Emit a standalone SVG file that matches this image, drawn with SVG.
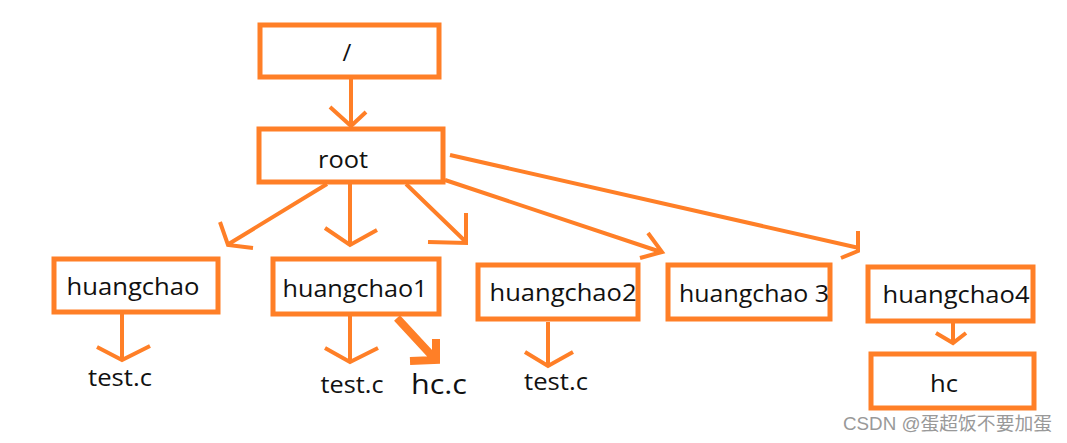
<svg xmlns="http://www.w3.org/2000/svg" width="1067" height="443" viewBox="0 0 1067 443">
<style>
.box{fill:#fff;stroke:#FF7F27;stroke-width:5}
.ln{fill:none;stroke:#FF7F27;stroke-width:4;stroke-linecap:butt;stroke-linejoin:miter}
.thick{fill:none;stroke:#FF7F27;stroke-width:8;stroke-linejoin:miter}
.t{font-family:"Open Sans","Noto Sans",sans-serif;font-size:24px;fill:#111;text-anchor:middle}
.wm{font-family:"Liberation Sans","Noto Sans CJK SC",sans-serif;font-size:18px;fill:#999}
</style>
<rect width="1067" height="443" fill="#fff"/>
<g id="n-slash"><rect class="box" x="260" y="25" width="179" height="52"/><text class="t" x="347" y="61">/</text></g>
<g id="n-root"><rect class="box" x="259" y="129" width="184" height="53"/><text class="t" x="343" y="168" textLength="50" lengthAdjust="spacingAndGlyphs">root</text></g>
<g id="n-huangchao"><rect class="box" x="54" y="259" width="164" height="53"/><text class="t" x="133" y="295" textLength="133" lengthAdjust="spacingAndGlyphs">huangchao</text></g>
<g id="n-huangchao1"><rect class="box" x="273" y="259" width="166" height="55"/><text class="t" x="355" y="297" textLength="145" lengthAdjust="spacingAndGlyphs">huangchao1</text></g>
<g id="n-huangchao2"><rect class="box" x="478" y="265" width="160" height="54"/><text class="t" x="563" y="301" textLength="147" lengthAdjust="spacingAndGlyphs">huangchao2</text></g>
<g id="n-huangchao3"><rect class="box" x="668" y="265" width="162" height="54"/><text class="t" x="754" y="302" textLength="150" lengthAdjust="spacingAndGlyphs">huangchao 3</text></g>
<g id="n-huangchao4"><rect class="box" x="868" y="267" width="165" height="54"/><text class="t" x="956" y="303" textLength="147" lengthAdjust="spacingAndGlyphs">huangchao4</text></g>
<g id="n-hc"><rect class="box" x="871" y="354" width="163" height="54"/><text class="t" x="944" y="392" textLength="28" lengthAdjust="spacingAndGlyphs">hc</text></g>
<g id="n-test1"><text class="t" x="120" y="386" textLength="64" lengthAdjust="spacingAndGlyphs">test.c</text></g>
<g id="n-test2"><text class="t" x="352" y="393" textLength="63" lengthAdjust="spacingAndGlyphs">test.c</text></g>
<g id="n-hcc"><text class="t" x="439" y="394" style="font-size:28px" textLength="56" lengthAdjust="spacingAndGlyphs">hc.c</text></g>
<g id="n-test3"><text class="t" x="556" y="390" textLength="64" lengthAdjust="spacingAndGlyphs">test.c</text></g>
<g id="connectors">
<path class="ln" d="M351 79V125M330 107L351 126L366 112"/>
<path class="ln" d="M327 184L227 245M220 222L228 245L253 248"/>
<path class="ln" d="M350 184V245M325 228L350 245L377 230"/>
<path class="ln" d="M406 184L466 242M466 213V243L428 242"/>
<path class="ln" d="M445 180L661 252M648 233L662 252L640 258"/>
<path class="ln" d="M450 155L859 248M858 231V251L841 258"/>
<path class="ln" d="M122 314V360M97 347L122 360L150 346"/>
<path class="ln" d="M350 316V362M325 348L350 362L378 348"/>
<path class="thick" d="M397 318L434 358M436 339V360L410 361"/>
<path class="ln" d="M548 322V366M525 352L548 366L573 352"/>
<path class="ln" d="M953 323V343M936 333L953 343L966 333"/>
</g>
<text class="wm" x="843" y="430" textLength="209" lengthAdjust="spacingAndGlyphs">CSDN @蛋超饭不要加蛋</text>
</svg>
